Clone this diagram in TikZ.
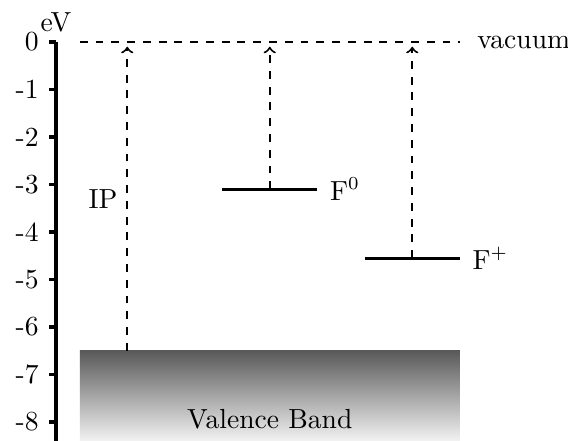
\documentclass[tikz,border=0pt]{standalone}
\begin{document}
\begin{tikzpicture}[
  x=0.635cm, y=0.635cm,
  font=\fontsize{10.5}{12.6}\selectfont,
  axis/.style={line width=1.15pt},
  level/.style={line width=1.15pt},
  vac/.style={dashed, line width=0.75pt},
  excite/.style={dashed, line width=0.75pt, ->}
]
\useasboundingbox (-1.179,0.884) rectangle (10.779,-8.4);

% Energy axis
\draw[axis] (0,0) -- (0,-8.4);
\draw[axis] (0,0) -- (-0.15,0) node[left] (l0) {0};
\draw[axis] (0,-1) -- (-0.15,-1) node[left] (l1) {-1};
\draw[axis] (0,-2) -- (-0.15,-2) node[left] (l2) {-2};
\draw[axis] (0,-3) -- (-0.15,-3) node[left] (l3) {-3};
\draw[axis] (0,-4) -- (-0.15,-4) node[left] (l4) {-4};
\draw[axis] (0,-5) -- (-0.15,-5) node[left] (l5) {-5};
\draw[axis] (0,-6) -- (-0.15,-6) node[left] (l6) {-6};
\draw[axis] (0,-7) -- (-0.15,-7) node[left] (l7) {-7};
\draw[axis] (0,-8) -- (-0.15,-8) node[left] (l8) {-8};
\node[above] (ev) at (0,0.02) {eV};

% Valence band
\shade[top color=black!65, bottom color=black!5] (0.5,-6.5) rectangle (8.5,-8.4);
\node (vb) at (4.5,-7.95) {Valence Band};

% Vacuum level
\coordinate (vacL) at (0.5,0);
\coordinate (vacR) at (8.5,0);
\draw[vac] (vacL) -- (vacR) node[right, xshift=3pt] (vac) {vacuum};

% Defect levels
\coordinate (f0L) at (3.5,-3.1);
\coordinate (f0R) at (5.5,-3.1);
\coordinate (fpL) at (6.5,-4.55);
\coordinate (fpR) at (8.5,-4.55);
\draw[level] (f0L) -- (f0R) node[right, xshift=1pt] (f0) {F$^0$};
\draw[level] (fpL) -- (fpR) node[right, xshift=1pt] (fp) {F$^+$};

% Excitations to vacuum
\coordinate (ipB) at (1.5,-6.5);
\coordinate (ipT) at (1.5,-0.1);
\coordinate (f0B) at (4.5,-3.1);
\coordinate (f0T) at (4.5,-0.1);
\coordinate (fpB) at (7.5,-4.55);
\coordinate (fpT) at (7.5,-0.1);
\draw[excite] (ipB) -- (ipT) node[pos=0.5, left] (ip) {IP};
\draw[excite] (f0B) -- (f0T);
\draw[excite] (fpB) -- (fpT);
\end{tikzpicture}
\end{document}
